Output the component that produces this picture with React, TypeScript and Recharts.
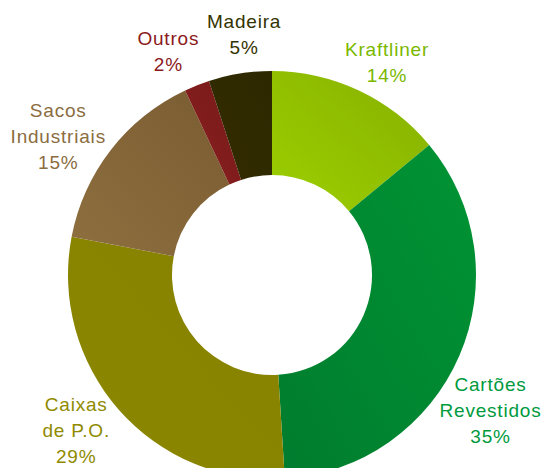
import { PieChart, Pie, Cell } from 'recharts'

const categories = ['Kraftliner', 'Cartões\nRevestidos', 'Caixas\nde P.O.', 'Sacos\nIndustriais', 'Outros', 'Madeira']
const shares = [14, 35, 29, 15, 2, 5]

const SLICE_GRADIENTS = [
    ['#86b000', '#9ccf00'],
    ['#009434', '#007c2e'],
    ['#868200', '#8c8700'],
    ['#7a5c32', '#8e6f3f'],
    ['#761a18', '#8a2020'],
    ['#2e2800', '#332c02'],
]
const LABEL_COLORS = ['#7ab800', '#009a3e', '#8f8a00', '#8b6d3f', '#8b1a1a', '#333300']
// small hand nudges of the label blocks, like the original layout
const LABEL_NUDGE = [[9, 12], [-10, 36], [-9, -10], [-17, 14], [-12, 8], [11, 5]]

const data = categories.map((name, i) => ({ name, value: shares[i] }))

const RAD = Math.PI / 180
const LINE_H = 26

// eslint-disable-next-line @typescript-eslint/no-explicit-any
function renderLabel(props: any) {
    const { cx, cy, midAngle, outerRadius, index, name, value } = props
    const r = outerRadius + 45
    const [nx, ny] = LABEL_NUDGE[index]
    const x = cx + r * Math.cos(-midAngle * RAD) + nx
    const y = cy + r * Math.sin(-midAngle * RAD) + ny
    const lines = [...String(name).split('\n'), `${value}%`]
    const top = y - ((lines.length - 1) * LINE_H) / 2
    return (
        <text x={x} y={top} fill={LABEL_COLORS[index]} textAnchor="middle" dominantBaseline="central"
            fontFamily="'Liberation Sans', Arial, sans-serif" fontSize={19} letterSpacing={0.8}>
            {lines.map((l, k) => (
                <tspan key={k} x={x} dy={k === 0 ? 0 : LINE_H}>{l}</tspan>
            ))}
        </text>
    )
}

export default function App() {
    return (
        <div style={{ position: 'absolute', left: 0, top: 0, width: 544, height: 468, background: '#fff' }}>
            <PieChart width={544} height={468} margin={{ top: 0, right: 0, bottom: 0, left: 0 }}>
                <defs>
                    {SLICE_GRADIENTS.map(([a, b], i) => (
                        <linearGradient key={i} id={`slice-${i}`} x1="0" y1="1" x2="1" y2="0">
                            <stop offset="0%" stopColor={b} />
                            <stop offset="100%" stopColor={a} />
                        </linearGradient>
                    ))}
                </defs>
                <Pie data={data} dataKey="value" nameKey="name" cx={272} cy={275}
                    innerRadius={100} outerRadius={204} startAngle={90} endAngle={-270}
                    stroke="none" label={renderLabel} labelLine={false} isAnimationActive={false}>
                    {data.map((_, i) => <Cell key={i} fill={`url(#slice-${i})`} />)}
                </Pie>
            </PieChart>
        </div>
    )
}
